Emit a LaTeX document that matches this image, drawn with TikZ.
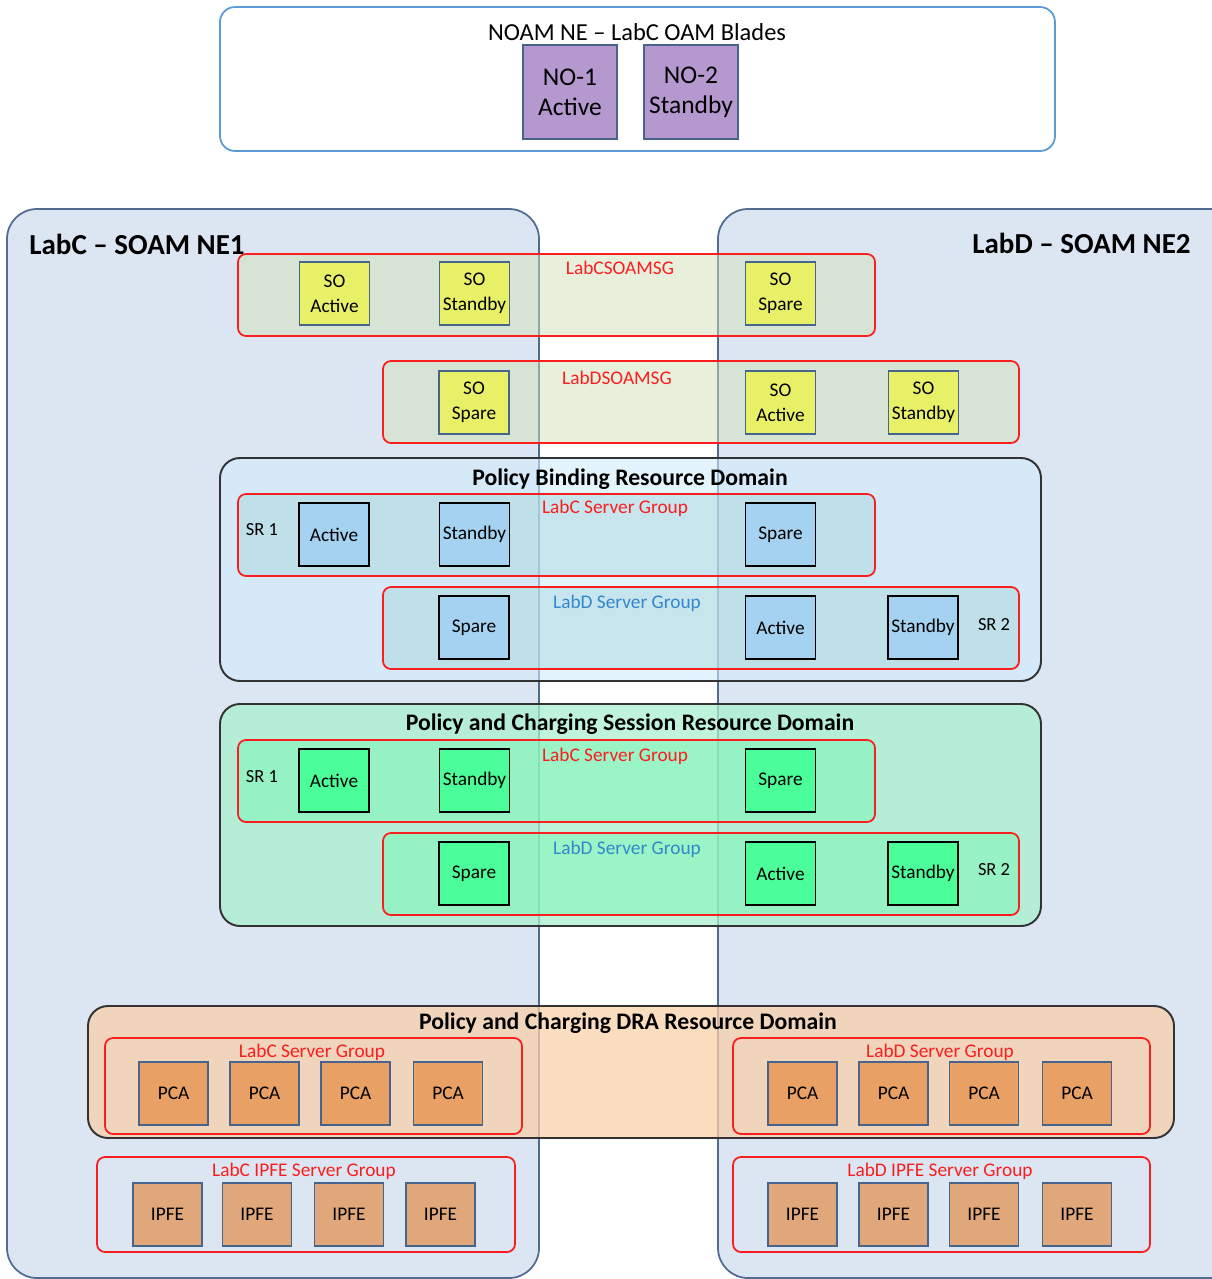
\documentclass[tikz,border=0pt]{standalone}
\usepackage{fontspec}
\setmainfont{Carlito}
\usetikzlibrary{positioning}
\definecolor{nefill}{RGB}{220,230,242}
\definecolor{neline}{RGB}{80,108,145}
\definecolor{topline}{RGB}{91,155,213}
\definecolor{boxline}{RGB}{70,100,140}
\definecolor{sgred}{RGB}{250,30,30}
\definecolor{sgblue}{RGB}{50,135,205}
\definecolor{nofill}{RGB}{180,152,206}
\definecolor{sofill}{RGB}{232,240,104}
\definecolor{sgsofill}{RGB}{209,225,185}
\definecolor{pbfill}{RGB}{210,236,252}
\definecolor{pbsgfill}{RGB}{170,215,220}
\definecolor{pbsrv}{RGB}{164,210,240}
\definecolor{pcfill}{RGB}{170,240,205}
\definecolor{pcsgfill}{RGB}{120,245,180}
\definecolor{pcsrv}{RGB}{76,254,154}
\definecolor{drafill}{RGB}{248,208,170}
\definecolor{pcafill}{RGB}{232,160,100}
\definecolor{ipfefill}{RGB}{224,168,122}
\begin{document}
\begin{tikzpicture}[x=0.02cm, y=-0.02cm, every node/.style={align=center, inner sep=0pt},
          nebox/.style={draw=neline, line width=1pt, fill=nefill, rounded corners=0.6cm},
          sgbox/.style={draw=sgred, line width=1pt, rounded corners=0.16cm},
          rdomain/.style={draw=black!80, line width=1.1pt, rounded corners=0.4cm},
          srv/.style={draw=black, line width=0.8pt, minimum width=1.4cm, minimum height=1.26cm,
                      font=\fontsize{11}{14}\selectfont},
          sobox/.style={srv, draw=boxline, fill=sofill},
          nobox/.style={srv, draw=boxline, fill=nofill, minimum size=1.88cm, font=\fontsize{14.5}{17}\selectfont},
          dra/.style={srv, draw=boxline, minimum width=1.38cm},
          sglabel/.style={text=sgred, font=\fontsize{11}{13}\selectfont},
          srlabel/.style={font=\fontsize{10.5}{12}\selectfont},
          netitle/.style={font=\fontsize{16.5}{19}\selectfont\bfseries},
          ttl/.style={font=\fontsize{13.5}{16}\selectfont\bfseries}]
            \useasboundingbox (0,0) rectangle (1212,1279);
            % NOAM
            \draw[draw=topline, line width=1pt, fill=white, rounded corners=0.3cm] (220,7) rectangle (1055,151);
            \node[font=\fontsize{13.9}{16}\selectfont] (noam) at (637,32) {NOAM NE -- LabC OAM Blades};
            \node[nobox] (no1) at (570,92) {NO-1\\Active};
            \node[nobox] (no2) at (691,92) {NO-2\\Standby};
            % SOAM NEs
            \draw[nebox] (7,209) rectangle (539,1278);
            \draw[nebox] (718,209) rectangle (1240,1278);
            \node[netitle, anchor=west] (ne1) at (29,244) {LabC -- SOAM NE1};
            \node[netitle, anchor=east] (ne2) at (1191,243) {LabD -- SOAM NE2};
            % SOAM server groups
            \draw[sgbox, fill=sgsofill, fill opacity=0.5] (238,254) rectangle (875,336);
            \draw[sgbox, fill=sgsofill, fill opacity=0.5] (383,361) rectangle (1019,443);
            \node[sglabel] (csoamsg) at (620,268) {LabCSOAMSG};
            \node[sglabel] (dsoamsg) at (617,378) {LabDSOAMSG};
            \node[sobox] (csoA) at (334.5,293.5) {SO\\Active};
            \node[sobox] (csoB) at (474.5,293.5) {SO\\Standby};
            \node[sobox] (csoS) at (780.5,293.5) {SO\\Spare};
            \node[sobox] (dsoS) at (474,402.5) {SO\\Spare};
            \node[sobox] (dsoA) at (780.5,402.5) {SO\\Active};
            \node[sobox] (dsoB) at (923.5,402.5) {SO\\Standby};
            % Policy Binding
            \draw[rdomain, fill=pbfill, fill opacity=0.6] (220,458) rectangle (1041,681);
            \node[ttl] (pb) at (630,479) {Policy Binding Resource Domain};
            \draw[sgbox, fill=pbsgfill, fill opacity=0.5] (238,494) rectangle (875,576);
            \draw[sgbox, fill=pbsgfill, fill opacity=0.5] (383,587) rectangle (1019,669);
            \node[sglabel] (pbc) at (615,508) {LabC Server Group};
            \node[sglabel, text=sgblue] (pbd) at (627,603) {LabD Server Group};
            \node[srlabel] (pbsr1) at (262,530) {SR 1};
            \node[srlabel] (pbsr2) at (994,625) {SR 2};
            \node[srv, fill=pbsrv] (pbcA) at (334,534.5) {Active};
            \node[srv, fill=pbsrv] (pbcB) at (474.5,534.5) {Standby};
            \node[srv, fill=pbsrv] (pbcS) at (780.5,534.5) {Spare};
            \node[srv, fill=pbsrv] (pbdS) at (474,627.5) {Spare};
            \node[srv, fill=pbsrv] (pbdA) at (780.5,627.5) {Active};
            \node[srv, fill=pbsrv] (pbdB) at (923,627.5) {Standby};
            % Policy and Charging Session
            \draw[rdomain, fill=pcfill, fill opacity=0.75] (220,704) rectangle (1041,926);
            \node[ttl] (pc) at (630,724) {Policy and Charging Session Resource Domain};
            \draw[sgbox, fill=pcsgfill, fill opacity=0.5] (238,740) rectangle (875,822);
            \draw[sgbox, fill=pcsgfill, fill opacity=0.5] (383,833) rectangle (1019,915);
            \node[sglabel] (pcc) at (615,756) {LabC Server Group};
            \node[sglabel, text=sgblue] (pcd) at (627,849) {LabD Server Group};
            \node[srlabel] (pcsr1) at (262,777) {SR 1};
            \node[srlabel] (pcsr2) at (994,870) {SR 2};
            \node[srv, fill=pcsrv] (pccA) at (334,780.5) {Active};
            \node[srv, fill=pcsrv] (pccB) at (474.5,780.5) {Standby};
            \node[srv, fill=pcsrv] (pccS) at (780.5,780.5) {Spare};
            \node[srv, fill=pcsrv] (pcdS) at (474,873.5) {Spare};
            \node[srv, fill=pcsrv] (pcdA) at (780.5,873.5) {Active};
            \node[srv, fill=pcsrv] (pcdB) at (923,873.5) {Standby};
            % Policy and Charging DRA
            \draw[rdomain, fill=drafill, fill opacity=0.75] (88,1006) rectangle (1174,1138);
            \node[ttl] (dra) at (628,1023) {Policy and Charging DRA Resource Domain};
            \draw[sgbox] (105,1038) rectangle (522,1134);
            \draw[sgbox] (733,1038) rectangle (1150,1134);
            \node[sglabel] (drac) at (312,1052) {LabC Server Group};
            \node[sglabel] (drad) at (940,1052) {LabD Server Group};
            \foreach \x [count=\i] in {173.5,264.5,355.5,448}
                \node[dra, fill=pcafill] (pcaC\i) at (\x,1093.5) {PCA};
            \foreach \x [count=\i] in {802.5,893.5,984,1077}
                \node[dra, fill=pcafill] (pcaD\i) at (\x,1093.5) {PCA};
            % IPFE
            \draw[sgbox] (97,1157) rectangle (515,1252);
            \draw[sgbox] (733,1157) rectangle (1150,1252);
            \node[sglabel] (ipfec) at (304,1171) {LabC IPFE Server Group};
            \node[sglabel] (ipfed) at (940,1171) {LabD IPFE Server Group};
            \foreach \x [count=\i] in {167.5,257,349,440.5}
                \node[dra, fill=ipfefill] (ipfeC\i) at (\x,1214.5) {IPFE};
            \foreach \x [count=\i] in {802.5,893.5,984,1077}
                \node[dra, fill=ipfefill] (ipfeD\i) at (\x,1214.5) {IPFE};
        \end{tikzpicture}
\end{document}
